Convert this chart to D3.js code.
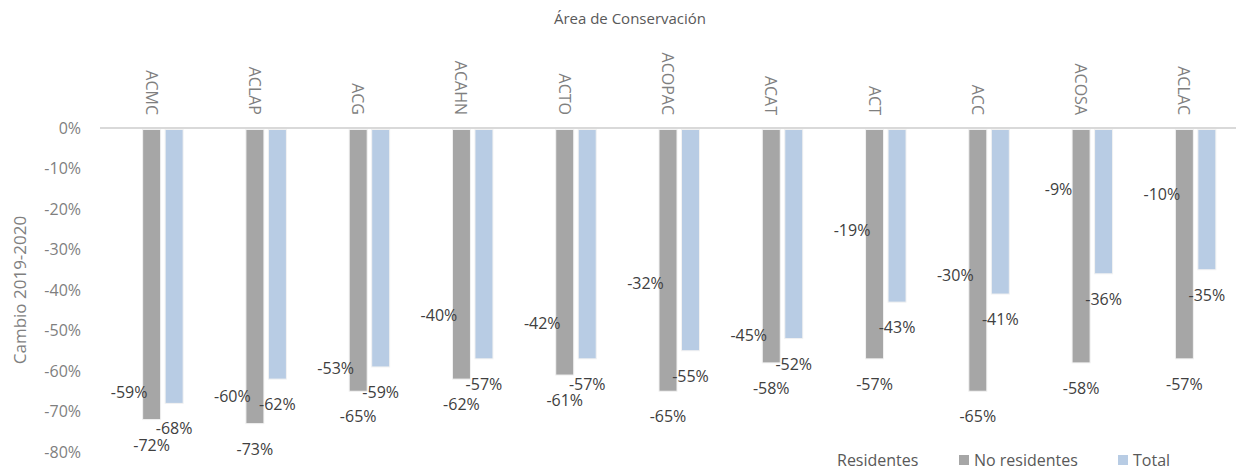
<!DOCTYPE html>
<html>
<head>
<meta charset="utf-8">
<script src="https://cdnjs.cloudflare.com/ajax/libs/d3/7.8.5/d3.min.js"></script>
<style>
  body { margin: 0; background: #fff; }
  svg text { font-family: "Open Sans", "DejaVu Sans", sans-serif; }
</style>
</head>
<body>
<div id="chart"></div>
<script>
var categories = ["ACMC", "ACLAP", "ACG", "ACAHN", "ACTO", "ACOPAC", "ACAT", "ACT", "ACC", "ACOSA", "ACLAC"];
var seriesNames = ["Residentes", "No residentes", "Total"];
var residentes = [-59, -60, -53, -40, -42, -32, -45, -19, -30, -9, -10];
var noResidentes = [-72, -73, -65, -62, -61, -65, -58, -57, -65, -58, -57];
var total = [-68, -62, -59, -57, -57, -55, -52, -43, -41, -36, -35];
var yTicks = [0, -10, -20, -30, -40, -50, -60, -70, -80];
var colors = ["#ffffff", "#a6a6a6", "#b8cce4"];

var width = 1238, height = 470;
var plotLeft = 100, plotRight = 1236, plotTop = 128, plotBottom = 452;

var svg = d3.select("#chart").append("svg").attr("width", width).attr("height", height);

var x0 = d3.scaleBand().domain(categories).range([plotLeft, plotRight]);
var x1 = d3.scaleBand().domain(seriesNames).range([-33.75, 33.75]).paddingInner(0.2).paddingOuter(0.1);
var y = d3.scaleLinear().domain([0, -80]).range([plotTop, plotBottom]);

var values = [residentes, noResidentes, total];
var rows = [];
categories.forEach(function(c, i) {
  seriesNames.forEach(function(s, j) {
    rows.push({cat: c, series: s, idx: j, value: values[j][i]});
  });
});

var mid = function(c) { return x0(c) + x0.bandwidth() / 2; };

// title
svg.append("text").text("Área de Conservación")
  .attr("x", 630).attr("y", 24).attr("text-anchor", "middle")
  .attr("font-size", 15).attr("fill", "#595959");

// y axis title
svg.append("text").text("Cambio 2019-2020")
  .attr("transform", "translate(26," + ((plotTop + plotBottom) / 2) + ") rotate(-90)")
  .attr("text-anchor", "middle").attr("font-size", 17).attr("fill", "#7f7f7f");

// y tick labels
var yAxis = d3.axisLeft(y).tickValues(yTicks).tickSize(0).tickPadding(0)
  .tickFormat(function(d) { return d + "%"; });
var ya = svg.append("g").attr("transform", "translate(81,0)").call(yAxis);
ya.select(".domain").remove();
ya.selectAll("text").attr("font-size", 16).attr("fill", "#7f7f7f")
  .attr("font-family", "\"Open Sans\", \"DejaVu Sans\", sans-serif");

// zero line
svg.append("line").attr("x1", plotLeft).attr("x2", plotRight).attr("y1", y(0)).attr("y2", y(0))
  .attr("stroke", "#d9d9d9").attr("stroke-width", 2);

// bars (residentes drawn white, so they do not show)
svg.append("g").selectAll("rect").data(rows).enter().append("rect")
  .attr("x", function(d) { return mid(d.cat) + x1(d.series); })
  .attr("y", y(0) + 1.5)
  .attr("width", x1.bandwidth())
  .attr("height", function(d) { return y(d.value) - y(0) - 1.5; })
  .attr("fill", function(d) { return colors[d.idx]; })
  .attr("stroke", function(d) { return d.idx === 0 ? "none" : "#f2f2f2"; })
  .attr("stroke-width", 1);

// category labels, rotated
svg.append("g").selectAll("text").data(categories).enter().append("text")
  .text(function(d) { return d; })
  .attr("transform", function(d) { return "translate(" + (mid(d) - 6) + ",115) rotate(90)"; })
  .attr("text-anchor", "end").attr("font-size", 16).attr("fill", "#7f7f7f");

// data labels
svg.append("g").selectAll("text").data(rows).enter().append("text")
  .text(function(d) { return d.value + "%"; })
  .attr("x", function(d) { return mid(d.cat) + x1(d.series) + x1.bandwidth() / 2; })
  .attr("y", function(d) { return y(d.value) + 31; })
  .attr("text-anchor", "middle").attr("font-size", 16).attr("fill", "#404040");

// legend
var legendX = [820, 959, 1118];
var lg = svg.append("g").selectAll("g").data(seriesNames).enter().append("g")
  .attr("transform", function(d, i) { return "translate(" + legendX[i] + ",455)"; });
lg.append("rect").attr("width", 10).attr("height", 10)
  .attr("fill", function(d, i) { return colors[i]; });
lg.append("text").text(function(d) { return d; })
  .attr("x", function(d, i) { return i === 0 ? 17 : 15; }).attr("y", 11)
  .attr("font-size", 16).attr("fill", "#595959");
</script>
</body>
</html>
